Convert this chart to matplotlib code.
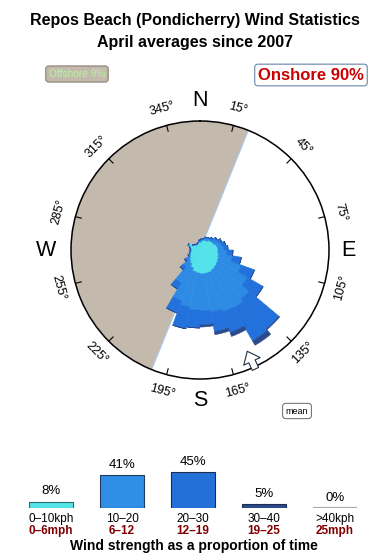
import numpy as np
import matplotlib
matplotlib.use('Agg')
import matplotlib.pyplot as plt

plt.rcParams['font.family'] = ['Liberation Sans', 'DejaVu Sans']

# wind rose: 36 sectors of 10 deg, length of each speed band (circle radius = 129)
sector_deg = np.arange(5, 360, 10)
band_0_10 = [8, 10, 11, 11, 13, 14, 15, 17, 18, 18, 19, 20, 21, 22, 23, 24, 24, 24,
             23, 22, 19, 16, 14, 12, 11, 10, 9, 9, 10, 12, 8, 7, 6, 6, 7, 8]
band_10_20 = [2, 1, 2, 3, 2, 4, 5, 5, 6, 9, 14, 24, 34, 42, 44, 42, 39, 37,
              37, 36, 35, 22, 8, 4, 1, .5, .5, .5, .5, .5, .5, .5, .5, .5, .5, 1]
band_20_30 = [1, 1, 1, 1, 2, 2, 3, 4, 4, 6, 9, 14, 18, 39, 38, 22, 20, 14,
              18, 22, 13, 7, 4, 2, 1, .5, .5, .5, .5, .5, .5, .5, .5, .5, .5, 1]
band_30_40 = [0, 0, 0, 0, 0, 0, 0, 0, 0, 0, 0, 0, 0, 1, 5, 4, 3, 2,
              0, 0, 0, 0, 0, 0, 0, 0, 0, 0, 0, 0, 0, 0, 0, 0, 0, 0]
band_colors = ['#52e3ea', '#2e8be4', '#2371da', '#2a4a8c']

offshore_from, offshore_to = 202, 382   # degrees, west half
mean_dir = 155

# strength summary
kph_labels = ['0–10kph', '10–20', '20–30', '30–40', '>40kph']
mph_labels = ['0–6mph', '6–12', '12–19', '19–25', '25mph']
strength_pct = [8, 41, 45, 5, 0]
strength_colors = ['#55e6ea', '#2f8ee6', '#2470d9', '#2b4a8a', '#aaaaaa']

fig = plt.figure(figsize=(3.9, 5.6), dpi=100)

def fx(px):
    return px / 390

def fy(py):
    return 1 - py / 560

fig.text(fx(195), fy(20), 'Repos Beach (Pondicherry) Wind Statistics', ha='center', va='center',
         fontsize=11.5, fontweight='bold')
fig.text(fx(195), fy(42), 'April averages since 2007', ha='center', va='center',
         fontsize=11.5, fontweight='bold')
fig.text(fx(77), fy(74), 'Offshore 9%', ha='center', va='center', fontsize=7.3, color='#b4f5a0',
         bbox=dict(boxstyle='round,pad=0.3', fc='#c4b9ad', ec='#8a7f72', lw=0.8))
fig.text(fx(311), fy(75), 'Onshore 90%', ha='center', va='center', fontsize=12, color='#cc0000',
         fontweight='bold',
         bbox=dict(boxstyle='round,pad=0.2', fc='white', ec='#6a86aa', lw=0.8))

# polar rose
ax = fig.add_axes([fx(200 - 129), fy(250 + 129), 258 / 390, 258 / 560], projection='polar')
ax.set_theta_zero_location('N')
ax.set_theta_direction(-1)
ax.set_ylim(0, 129)
ax.grid(False)
ax.set_xticks([])
ax.set_yticks([])
ax.spines['polar'].set_linewidth(1.1)

off_mid = np.radians((offshore_from + offshore_to) / 2)
ax.bar(off_mid, 129, width=np.radians(offshore_to - offshore_from), color='#c4b9ad', lw=0, zorder=1)
for d in (offshore_from, offshore_to):
    ax.plot([np.radians(d)] * 2, [0, 129], color='#a8c8ee', lw=0.8, zorder=1.5)

theta = np.radians(sector_deg)
bottom = np.zeros(len(sector_deg))
for band, col in zip([band_0_10, band_10_20, band_20_30, band_30_40], band_colors):
    band = np.array(band, dtype=float)
    ax.bar(theta, band, width=np.radians(10), bottom=bottom, color=col, edgecolor=col,
           lw=0.4, zorder=2)
    bottom += band

for d in range(15, 360, 30):
    th = np.radians(d)
    ax.plot([th, th], [123, 129], color='black', lw=0.8)
    rot = -d
    while rot <= -90:
        rot += 180
    ax.text(th, 146, f'{d}°', ha='center', va='center', fontsize=9,
            rotation=rot, rotation_mode='anchor', clip_on=False)

for name, d, r in [('N', 0, 149), ('E', 90, 148), ('S', 180, 150), ('W', 270, 154)]:
    ax.text(np.radians(d), r, name, ha='center', va='center', fontsize=15.5, clip_on=False)

ax.annotate('', xy=(np.radians(mean_dir), 109), xytext=(np.radians(mean_dir), 134),
            arrowprops=dict(arrowstyle='simple,head_width=1.3,head_length=0.8,tail_width=0.5',
                            fc='white', ec='#1e3040', lw=0.8), annotation_clip=False)
fig.text(fx(297), fy(411), 'mean', ha='center', va='center', fontsize=6.5,
         bbox=dict(boxstyle='round,pad=0.35', fc='white', ec='#666666', lw=0.7))

# strength bars
bx = fig.add_axes([fx(15.5), fy(508), 355 / 390, 45 / 560])
xs = np.arange(len(strength_pct))
bx.bar(xs, strength_pct, width=0.62, color=strength_colors,
       edgecolor=['#2a6a70', '#203a60', '#1c2c50', '#1c2c50', '#999999'], lw=0.8)
bx.hlines(0, xs[-1] - 0.31, xs[-1] + 0.31, color='#aaaaaa', lw=1.6)
bx.set_xlim(-0.5, 4.5)
bx.set_ylim(0, 56)
bx.axis('off')
for i, v in enumerate(strength_pct):
    bx.annotate(f'{v}%', xy=(i, v), xytext=(0, 3), textcoords='offset points',
                ha='center', va='bottom', fontsize=9.5, annotation_clip=False)
    bx.annotate(kph_labels[i], xy=(i, 0), xytext=(0, -8), textcoords='offset points',
                ha='center', va='center', fontsize=8.5, annotation_clip=False)
    bx.annotate(mph_labels[i], xy=(i, 0), xytext=(0, -16.5), textcoords='offset points',
                ha='center', va='center', fontsize=8.5, color='#800000', fontweight='bold',
                annotation_clip=False)

fig.text(fx(194), fy(546), 'Wind strength as a proportion of time', ha='center', va='center',
         fontsize=10, fontweight='bold')

fig.savefig('out.png', dpi=100)
